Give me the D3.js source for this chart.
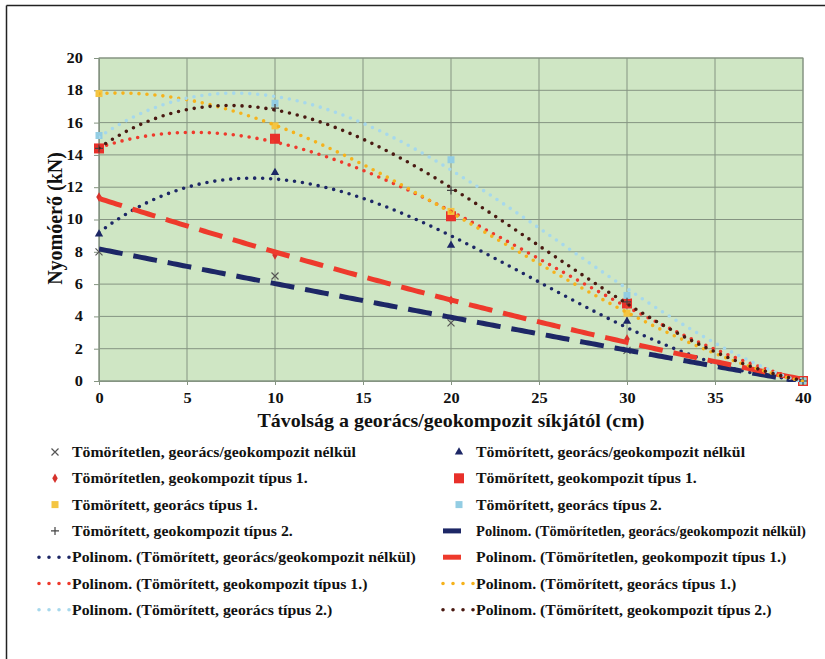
<!DOCTYPE html>
<html>
<head>
<meta charset="utf-8">
<script src="https://cdn.jsdelivr.net/npm/d3@7"></script>
<style>
  body { margin: 0; background: #fff; }
  svg { display: block; }
  text { font-family: "Liberation Serif", "DejaVu Serif", serif; font-weight: bold; fill: #111; }
</style>
</head>
<body>
<svg id="chart" width="825" height="659"></svg>
<script>
// measured distances (cm)
const distances = [0, 10, 20, 30, 40];

// force values (kN)
const tomoritetlenNelkul = [8.0, 6.5, 3.6, 1.9, 0];
const tomoritettNelkul = [9.1, 12.9, 8.4, 3.7, 0];
const tomoritetlenGeokomp1 = [11.4, 7.8, 5.0, 2.6, 0];
const tomoritettGeokomp1 = [14.4, 15.0, 10.2, 4.8, 0];
const tomoritettGeoracs1 = [17.8, 15.8, 10.5, 4.2, 0];
const tomoritettGeoracs2 = [15.2, 17.2, 13.7, 5.3, 0];
const tomoritettGeokomp2 = [14.4, 16.9, 11.8, 4.9, 0];

const seriesNames = [
  "Tömörítetlen, georács/geokompozit nélkül",
  "Tömörített, georács/geokompozit nélkül",
  "Tömörítetlen, geokompozit típus 1.",
  "Tömörített, geokompozit típus 1.",
  "Tömörített, georács típus 1.",
  "Tömörített, georács típus 2.",
  "Tömörített, geokompozit típus 2."
];

const xTicks = [0, 5, 10, 15, 20, 25, 30, 35, 40];
const yTicks = [0, 2, 4, 6, 8, 10, 12, 14, 16, 18, 20];

const xTitle = "Távolság a georács/geokompozit síkjától (cm)";
const yTitle = "Nyomóerő (kN)";

// series styling
const series = [
  { values: tomoritetlenNelkul, marker: "cross", mColor: "#555", tColor: "#1d2766", trend: "dash", order: 2 },
  { values: tomoritettNelkul, marker: "triangle", mColor: "#1d2766", tColor: "#1d2766", trend: "dot", order: 3 },
  { values: tomoritetlenGeokomp1, marker: "diamond", mColor: "#d6322c", tColor: "#ee3a2c", trend: "dash", order: 2 },
  { values: tomoritettGeokomp1, marker: "square", mColor: "#e8302a", tColor: "#ee3a2c", trend: "dot", order: 3 },
  { values: tomoritettGeoracs1, marker: "smallsquare", mColor: "#f4c542", tColor: "#f5b21c", trend: "dot", order: 3 },
  { values: tomoritettGeoracs2, marker: "smallsquare", mColor: "#93cde3", tColor: "#a6d8ec", trend: "dot", order: 3 },
  { values: tomoritettGeokomp2, marker: "plus", mColor: "#444", tColor: "#4a1a12", trend: "dot", order: 3 }
];
series.forEach((s, i) => s.name = seriesNames[i]);

// least squares polynomial fit (like Excel's "Polinom." trendline)
function polyFit(xs, ys, order) {
  const n = order + 1;
  const A = [];
  for (let r = 0; r < n; r++) {
    A.push([]);
    for (let c = 0; c < n; c++) A[r].push(d3.sum(xs, x => Math.pow(x, r + c)));
    A[r].push(d3.sum(xs, (x, k) => ys[k] * Math.pow(x, r)));
  }
  for (let i = 0; i < n; i++) {
    let p = i;
    for (let r = i + 1; r < n; r++) if (Math.abs(A[r][i]) > Math.abs(A[p][i])) p = r;
    [A[i], A[p]] = [A[p], A[i]];
    for (let r = 0; r < n; r++) {
      if (r === i) continue;
      const f = A[r][i] / A[i][i];
      for (let c = i; c <= n; c++) A[r][c] -= f * A[i][c];
    }
  }
  const coef = A.map((row, i) => row[n] / row[i]);
  return x => d3.sum(coef, (c, i) => c * Math.pow(x, i));
}

const svg = d3.select("#chart");
const STRETCH = 1.17;   // the scanned digits are a bit wider than Times
const LEGEND_STRETCH = 1.13;
const LEGEND_MAX_X = 806;

// outer frame
svg.append("line").attr("x1", 6.5).attr("y1", 5.5).attr("x2", 825).attr("y2", 5.5)
  .attr("stroke", "#222").attr("stroke-width", 1.5);
svg.append("line").attr("x1", 6.5).attr("y1", 5.5).attr("x2", 6.5).attr("y2", 659)
  .attr("stroke", "#222").attr("stroke-width", 1.5);

const plot = { left: 99, right: 803, top: 58, bottom: 381 };

const x = d3.scaleLinear().domain([0, 40]).range([plot.left, plot.right]);
const y = d3.scaleLinear().domain([0, 20]).range([plot.bottom, plot.top]);

svg.append("rect")
  .attr("x", plot.left).attr("y", plot.top)
  .attr("width", plot.right - plot.left).attr("height", plot.bottom - plot.top)
  .attr("fill", "#cfe6c4");

// grid
svg.append("g").selectAll("line").data(yTicks).join("line")
  .attr("x1", plot.left).attr("x2", plot.right)
  .attr("y1", d => y(d)).attr("y2", d => y(d))
  .attr("stroke", "#859482").attr("stroke-width", 1);
svg.append("g").selectAll("line").data(xTicks).join("line")
  .attr("y1", plot.top).attr("y2", plot.bottom)
  .attr("x1", d => x(d)).attr("x2", d => x(d))
  .attr("stroke", "#859482").attr("stroke-width", 1);
svg.append("rect")
  .attr("x", plot.left).attr("y", plot.top)
  .attr("width", plot.right - plot.left).attr("height", plot.bottom - plot.top)
  .attr("fill", "none").attr("stroke", "#859482");

// axes
const yAxis = svg.append("g").attr("transform", `translate(${plot.left},0)`)
  .call(d3.axisLeft(y).tickValues(yTicks).tickSize(5).tickPadding(7));
const xAxis = svg.append("g").attr("transform", `translate(0,${plot.bottom})`)
  .call(d3.axisBottom(x).tickValues(xTicks).tickSize(4).tickPadding(8));
[yAxis, xAxis].forEach(a => {
  a.select(".domain").attr("stroke", "#859482");
  a.selectAll(".tick line").attr("stroke", "#859482");
  a.selectAll("text").style("font-family", "Liberation Serif").style("font-weight", "bold")
    .style("font-size", "14px").attr("fill", "#111");
});
// widen the tick digits like the scan
yAxis.selectAll(".tick text")
  .attr("transform", `translate(${-(STRETCH - 1) * 12},0) scale(${STRETCH},1)`);
xAxis.selectAll(".tick text").attr("transform", `scale(${STRETCH},1)`);

svg.append("text")
  .attr("transform", `translate(${(plot.left + plot.right) / 2},427) scale(1.11,1)`)
  .attr("text-anchor", "middle").style("font-size", "18px")
  .text(xTitle);
svg.append("text")
  .attr("transform", `translate(62,${(plot.top + plot.bottom) / 2 - 1}) rotate(-90) scale(1,1.1)`)
  .attr("text-anchor", "middle").style("font-size", "20px")
  .text(yTitle);

// marker drawing
function drawMarker(g, type, color) {
  if (type === "cross") {
    g.append("path").attr("d", "M-3.5,-3.5L3.5,3.5M-3.5,3.5L3.5,-3.5")
      .attr("stroke", color).attr("stroke-width", 1.2).attr("fill", "none");
  } else if (type === "plus") {
    g.append("path").attr("d", "M-4,0H4M0,-4V4")
      .attr("stroke", color).attr("stroke-width", 1.2).attr("fill", "none");
  } else if (type === "triangle") {
    g.append("path").attr("d", d3.symbol(d3.symbolTriangle, 30)).attr("fill", color);
  } else if (type === "diamond") {
    g.append("path").attr("d", d3.symbol(d3.symbolDiamond, 26)).attr("fill", color);
  } else if (type === "square") {
    g.append("rect").attr("x", -5).attr("y", -5).attr("width", 10).attr("height", 10).attr("fill", color);
  } else {
    g.append("rect").attr("x", -3.5).attr("y", -3.5).attr("width", 7).attr("height", 7).attr("fill", color);
  }
}

svg.append("defs").append("clipPath").attr("id", "plotClip")
  .append("rect").attr("x", plot.left).attr("y", plot.top - 2)
  .attr("width", plot.right - plot.left + 2).attr("height", plot.bottom - plot.top + 3);

// markers
series.forEach(s => {
  s.values.forEach((v, i) => {
    const g = svg.append("g").attr("transform", `translate(${x(distances[i])},${y(v)})`);
    drawMarker(g, s.marker, s.mColor);
  });
});

// trendlines
const line = d3.line().x(d => x(d[0])).y(d => y(d[1]));
const samples = d3.range(0, 40.001, 0.2);
const trendGroup = svg.append("g").attr("clip-path", "url(#plotClip)");

function styleTrend(sel, s) {
  sel.attr("fill", "none").attr("stroke", s.tColor);
  if (s.trend === "dash") {
    sel.attr("stroke-width", 5).attr("stroke-dasharray", "24 11");
  } else {
    sel.attr("stroke-width", 3.6).attr("stroke-linecap", "round").attr("stroke-dasharray", "0 8");
  }
  return sel;
}

series.forEach(s => {
  const f = polyFit(distances, s.values, s.order);
  trendGroup.append("path")
    .datum(samples.map(t => [t, f(t)]))
    .attr("d", line)
    .call(styleTrend, s);
});

// legend: markers first, then trendlines, two per row
const legendItems = series.map(s => ({ kind: "marker", s, label: s.name }))
  .concat(series.map(s => ({ kind: "trend", s, label: `Polinom. (${s.name})` })));

const legend = svg.append("g");
legendItems.forEach((item, i) => {
  const col = i % 2, row = Math.floor(i / 2);
  const baseX = col === 0 ? 37 : 441;
  const cy = 452 + row * 26.3;
  const g = legend.append("g");
  if (item.kind === "marker") {
    const mg = g.append("g").attr("transform", `translate(${baseX + 18},${cy})`);
    drawMarker(mg, item.s.marker, item.s.mColor);
  } else {
    const sel = g.append("line").attr("x1", baseX + 2).attr("x2", baseX + 34)
      .attr("y1", cy).attr("y2", cy);
    styleTrend(sel, item.s);
    if (item.s.trend === "dash") sel.attr("x1", baseX + 2).attr("x2", baseX + 20).attr("stroke-dasharray", null);
    else sel.attr("stroke-dasharray", "0 10");
  }
  const tx = baseX + 35;
  const label = g.append("text").style("font-size", "14px").text(item.label);
  const natural = label.node().getComputedTextLength();
  const sx = Math.min(LEGEND_STRETCH, (LEGEND_MAX_X - tx) / natural);
  label.attr("transform", `translate(${tx},${cy + 5}) scale(${sx},1)`);
});
</script>
</body>
</html>
